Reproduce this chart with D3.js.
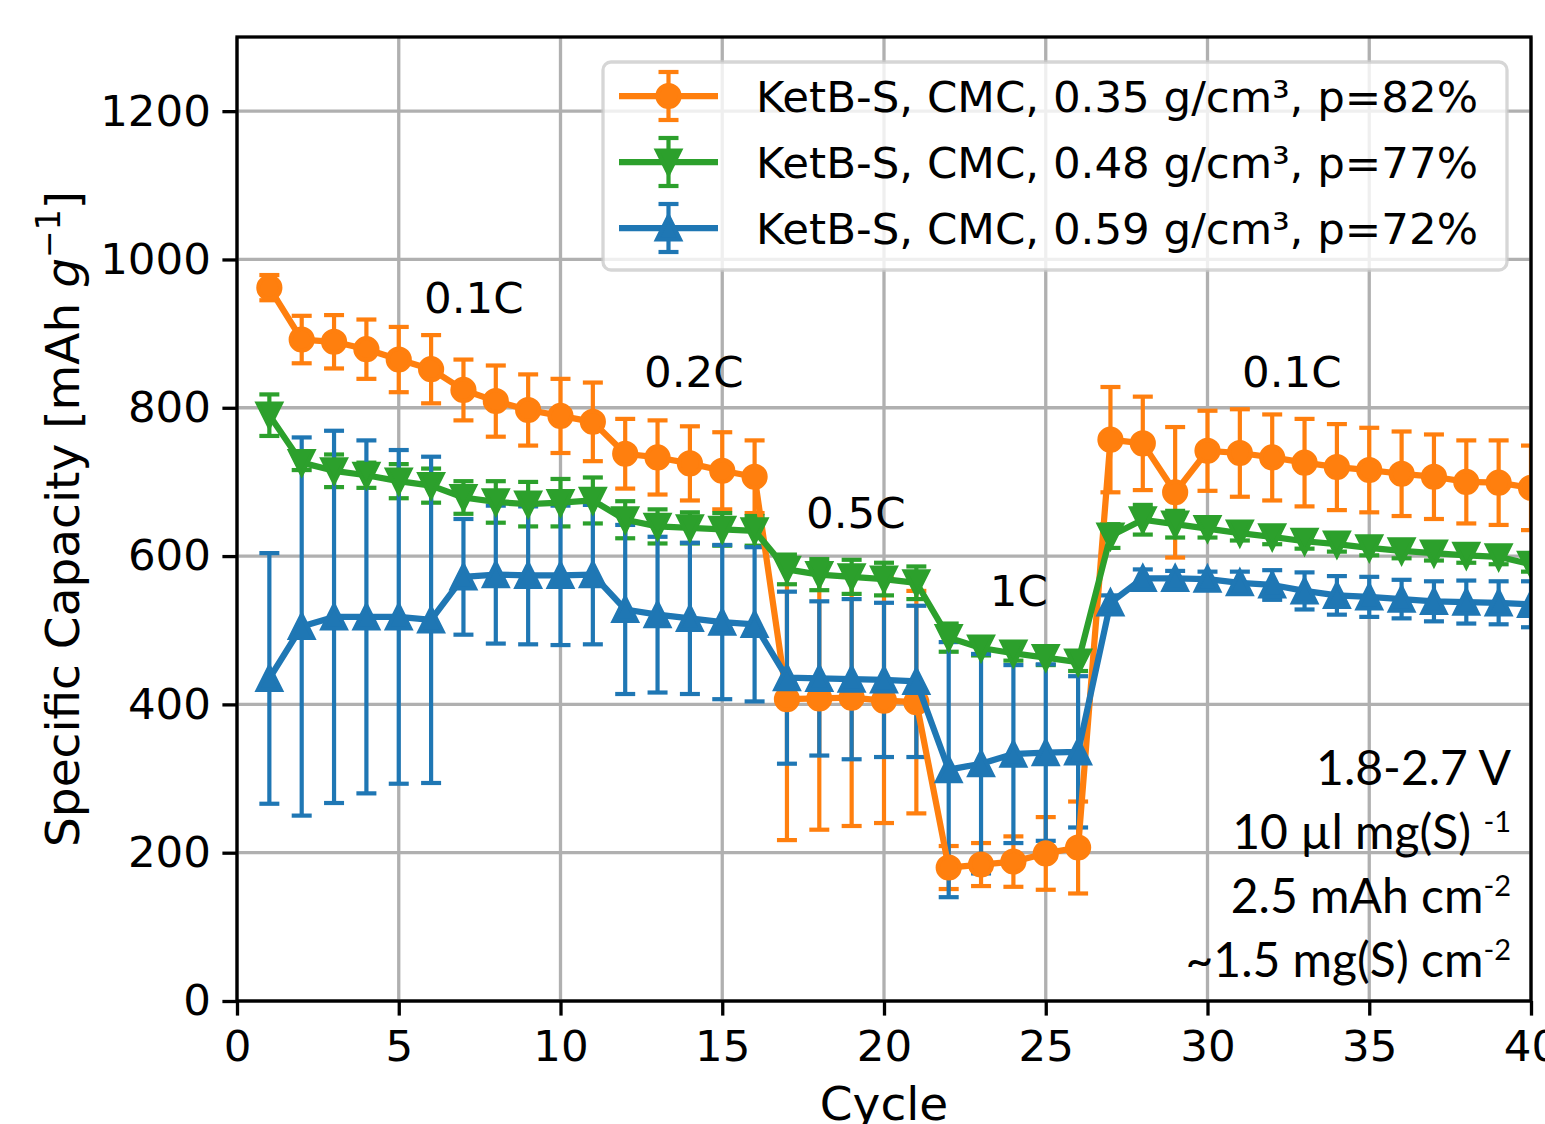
<!DOCTYPE html>
<html>
<head>
<meta charset="utf-8">
<script src="https://cdn.jsdelivr.net/npm/d3@7"></script>
<style>
  html, body { margin: 0; padding: 0; background: #fff; overflow: hidden; }
  svg { display: block; }
</style>
</head>
<body>
<svg id="chart" width="1545" height="1124"></svg>
<script>
// Cycle numbers 1..40
const cycles = [1,2,3,4,5,6,7,8,9,10,11,12,13,14,15,16,17,18,19,20,
                21,22,23,24,25,26,27,28,29,30,31,32,33,34,35,36,37,38,39,40];

// KetB-S, CMC, 0.35 g/cm³ (p=82%)
const cap035 = [962,892,889,879,865,852,824,809,797,789,781,738,733,725,715,707,
                407,408,409,405,403,180,184,188,199,207,757,752,686,742,739,733,
                726,720,716,711,707,700,699,692];
const err035 = [17,32,36,40,44,46,41,48,48,50,53,47,50,50,52,49,
                190,177,173,165,150,29,29,34,49,62,71,63,88,54,59,58,
                59,58,57,57,57,56,57,57];

// KetB-S, CMC, 0.48 g/cm³ (p=77%)
const cap048 = [790,726,715,709,701,695,679,673,670,672,675,649,640,638,636,634,
                582,575,572,569,564,490,476,469,463,457,627,649,643,637,631,626,
                620,616,611,607,604,601,599,589];
const err048 = [28,10,22,17,23,23,22,28,30,32,31,25,23,21,22,20,
                20,21,23,22,22,19,10,10,10,12,16,20,18,12,10,10,
                10,10,10,10,10,10,10,10];

// KetB-S, CMC, 0.59 g/cm³ (p=72%)
const cap059 = [435,505,518,518,518,514,572,575,574,574,575,528,521,516,511,508,
                436,435,434,433,431,312,320,333,335,336,537,570,570,569,564,561,
                553,547,545,542,539,538,537,535];
const err059 = [169,255,251,238,225,220,78,93,93,94,94,114,105,102,104,104,
                116,104,108,104,102,172,148,120,119,102,10,12,10,10,15,20,
                25,26,27,26,27,29,29,31];

const seriesLabels = ["KetB-S, CMC, 0.35 g/cm³, p=82%",
                      "KetB-S, CMC, 0.48 g/cm³, p=77%",
                      "KetB-S, CMC, 0.59 g/cm³, p=72%"];
const seriesColors = ["#ff7f0e", "#2ca02c", "#1f77b4"];
const seriesMarkers = ["circle", "down", "up"];

const xTicks = [0,5,10,15,20,25,30,35,40];
const yTicks = [0,200,400,600,800,1000,1200];

// C-rate annotations, anchored (left, baseline) in data coordinates
const rateText  = ["0.1C", "0.2C", "0.5C", "1C", "0.1C"];
const rateCycle = [5.78, 12.58, 17.59, 23.27, 31.07];
const rateValue = [928, 828, 638, 533, 828];

// Test conditions block (main text, superscript)
const condMain = ["1.8-2.7 V", "10 µl mg(S) ", "2.5 mAh cm", "~1.5 mg(S) cm"];
const condSup  = ["", "-1", "-2", "-2"];

// ---------------------------------------------------------------
const W = 1545, H = 1124;
const plot = { left: 237, right: 1531, top: 37, bottom: 1001 };
const FONT = "DejaVu Sans";
const FS = 43.5;          // tick labels, legend, annotations
const FS_LABEL = 47;      // axis titles
const tickLen = 14.6;
const lineW = 6.25, barW = 4.2, capHalf = 10, capW = 4.2;

const svg = d3.select("#chart");
const x = d3.scaleLinear().domain([0, 40]).range([plot.left, plot.right]);
const y = d3.scaleLinear().domain([0, 1300]).range([plot.bottom, plot.top]);

svg.append("rect").attr("width", W).attr("height", H).attr("fill", "#fff");

svg.append("defs").append("clipPath").attr("id", "plotClip")
  .append("rect")
  .attr("x", plot.left).attr("y", plot.top)
  .attr("width", plot.right - plot.left).attr("height", plot.bottom - plot.top);

// Grid
const grid = svg.append("g").attr("stroke", "#b0b0b0").attr("stroke-width", 3.3);
grid.selectAll("line.gx").data(xTicks).join("line")
  .attr("x1", d => x(d)).attr("x2", d => x(d))
  .attr("y1", plot.top).attr("y2", plot.bottom);
grid.selectAll("line.gy").data(yTicks).join("line")
  .attr("x1", plot.left).attr("x2", plot.right)
  .attr("y1", d => y(d)).attr("y2", d => y(d));

// Series
const series = [cap035, cap048, cap059].map((vals, i) => ({
  label: seriesLabels[i], color: seriesColors[i], marker: seriesMarkers[i],
  points: cycles.map((c, k) => ({ c, v: vals[k], e: [err035, err048, err059][i][k] }))
}));

const dataLayer = svg.append("g").attr("clip-path", "url(#plotClip)");

function drawErrorBars(g, s) {
  s.points.forEach(p => {
    const cx = x(p.c), top = y(p.v + p.e), bot = y(p.v - p.e);
    g.append("line").attr("x1", cx).attr("x2", cx).attr("y1", top).attr("y2", bot)
      .attr("stroke", s.color).attr("stroke-width", barW);
    [top, bot].forEach(yy => g.append("line")
      .attr("x1", cx - capHalf).attr("x2", cx + capHalf).attr("y1", yy).attr("y2", yy)
      .attr("stroke", s.color).attr("stroke-width", capW));
  });
}

function markerPath(type, r) {
  if (type === "up") return `M0,${-r}L${r},${r}L${-r},${r}Z`;
  if (type === "down") return `M0,${r}L${r},${-r}L${-r},${-r}Z`;
  return null;
}

function drawMarker(g, type, color, cx, cy) {
  if (type === "circle") {
    g.append("circle").attr("cx", cx).attr("cy", cy).attr("r", 11)
      .attr("fill", color).attr("stroke", color).attr("stroke-width", 4.2);
  } else {
    g.append("path").attr("d", markerPath(type, 11.5))
      .attr("transform", `translate(${cx},${cy})`)
      .attr("fill", color).attr("stroke", color).attr("stroke-width", 4.2)
      .attr("stroke-linejoin", "miter");
  }
}

// Error bars of every series go below all data lines
const barsLayer = dataLayer.append("g");
series.forEach(s => drawErrorBars(barsLayer, s));

const linesLayer = dataLayer.append("g");
const lineGen = d3.line().x(p => x(p.c)).y(p => y(p.v));
series.forEach(s => {
  const g = linesLayer.append("g");
  g.append("path").datum(s.points).attr("d", lineGen)
    .attr("fill", "none").attr("stroke", s.color).attr("stroke-width", lineW)
    .attr("stroke-linejoin", "round").attr("stroke-linecap", "square");
  s.points.forEach(p => drawMarker(g, s.marker, s.color, x(p.c), y(p.v)));
});

// Axes
const xAxis = d3.axisBottom(x).tickValues(xTicks).tickSize(tickLen).tickPadding(14.6)
  .tickFormat(d3.format("d"));
const yAxis = d3.axisLeft(y).tickValues(yTicks).tickSize(tickLen).tickPadding(11.5)
  .tickFormat(d3.format("d"));

function styleAxis(g) {
  g.select(".domain").remove();
  g.selectAll(".tick line").attr("stroke", "#000").attr("stroke-width", 3.3);
  g.selectAll(".tick text").attr("fill", "#000")
    .style("font-family", FONT).style("font-size", FS + "px");
}
svg.append("g").attr("transform", `translate(0,${plot.bottom})`).call(xAxis).call(styleAxis);
svg.append("g").attr("transform", `translate(${plot.left},0)`).call(yAxis).call(styleAxis);

// Spines
svg.append("rect")
  .attr("x", plot.left).attr("y", plot.top)
  .attr("width", plot.right - plot.left).attr("height", plot.bottom - plot.top)
  .attr("fill", "none").attr("stroke", "#000").attr("stroke-width", 3.3);

// Axis titles
svg.append("text")
  .attr("x", (plot.left + plot.right) / 2).attr("y", 1120)
  .attr("text-anchor", "middle")
  .style("font-family", FONT).style("font-size", FS_LABEL + "px")
  .text("Cycle");

const yl = svg.append("text")
  .attr("transform", `translate(79,${(plot.top + plot.bottom) / 2}) rotate(-90)`)
  .attr("text-anchor", "middle")
  .style("font-family", FONT).style("font-size", FS_LABEL + "px");
yl.append("tspan").text("Specific Capacity [mAh ");
yl.append("tspan").attr("font-style", "italic").text("g");
yl.append("tspan").attr("dy", -19).style("font-size", "33px").text("\u22121");
yl.append("tspan").attr("dy", 19).text("]");

// C-rate annotations
svg.append("g").selectAll("text").data(rateText).join("text")
  .attr("x", (d, i) => x(rateCycle[i]))
  .attr("y", (d, i) => y(rateValue[i]))
  .style("font-family", FONT).style("font-size", FS + "px")
  .text(d => d);

// Test conditions
const cond = svg.append("g").style("font-family", "Lato").style("font-size", "48px");
condMain.forEach((t, i) => {
  const tx = cond.append("text")
    .attr("x", 1511).attr("y", 785 + i * 64)
    .attr("text-anchor", "end");
  tx.append("tspan").text(t);
  if (condSup[i]) {
    tx.append("tspan").attr("dy", -17).style("font-size", "29px").text(condSup[i]);
  }
});

// Legend
const leg = svg.append("g");
leg.append("rect")
  .attr("x", 603).attr("y", 62).attr("width", 904).attr("height", 208)
  .attr("rx", 8).attr("ry", 8)
  .attr("fill", "#fff").attr("fill-opacity", 0.8)
  .attr("stroke", "#cccccc").attr("stroke-opacity", 0.8).attr("stroke-width", 3.3);
series.forEach((s, i) => {
  const cy = 96 + i * 66;
  const cx = 668.5;
  const g = leg.append("g");
  g.append("line").attr("x1", cx).attr("x2", cx).attr("y1", cy - 24).attr("y2", cy + 24)
    .attr("stroke", s.color).attr("stroke-width", barW);
  [cy - 24, cy + 24].forEach(yy => g.append("line")
    .attr("x1", cx - capHalf).attr("x2", cx + capHalf).attr("y1", yy).attr("y2", yy)
    .attr("stroke", s.color).attr("stroke-width", capW));
  g.append("line").attr("x1", 619).attr("x2", 718).attr("y1", cy).attr("y2", cy)
    .attr("stroke", s.color).attr("stroke-width", lineW);
  drawMarker(g, s.marker, s.color, cx, cy);
  g.append("text").attr("x", 756).attr("y", cy + 16)
    .style("font-family", FONT).style("font-size", FS + "px")
    .text(s.label);
});
</script>
</body>
</html>
